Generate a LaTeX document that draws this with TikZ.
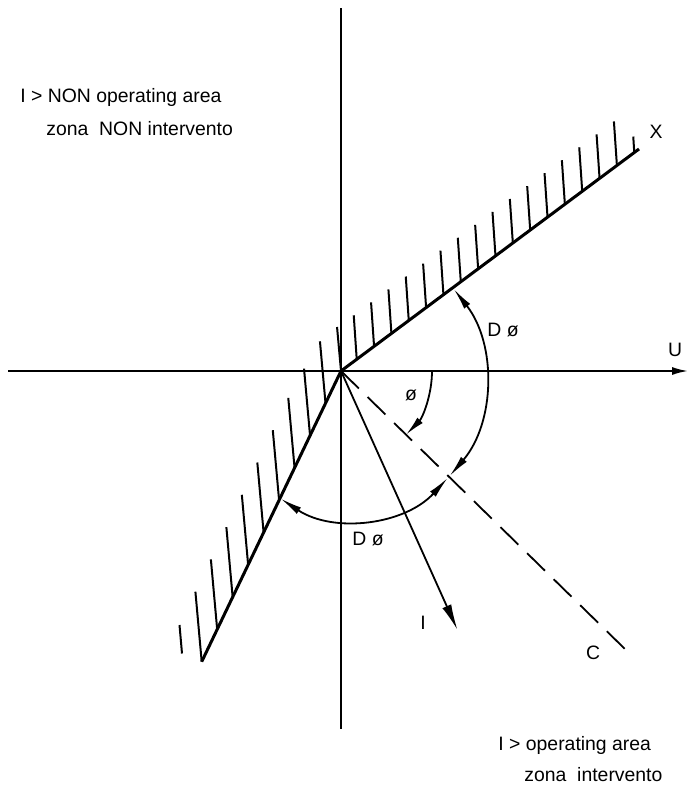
\documentclass[tikz,border=0pt]{standalone}
\usepackage{fontspec}
\setmainfont{Liberation Sans}
\usetikzlibrary{arrows.meta,calc}

\tikzset{
  axis/.style={line width=0.9pt},
  bound/.style={line width=1.5pt},
  hatch/.style={line width=1pt},
  angarc/.style={line width=0.9pt},
  lbl/.style={inner sep=0pt, font=\fontsize{9.7}{11}\selectfont},
}

\begin{document}
\begin{tikzpicture}[x=0.5pt, y=-0.5pt]
  \useasboundingbox (0,0) rectangle (688,787);

  % Axes
  \coordinate (O) at (341,371);
  \coordinate (Uw) at (8,371);
  \coordinate (Ue) at (688,371);
  \coordinate (Vn) at (341,8);
  \coordinate (Vs) at (341,729);
  \draw[axis, -{Latex[length=8pt,width=4pt]}] (Uw) -- (Ue);
  \draw[axis] (Vn) -- (Vs);

  % Boundary lines
  \coordinate (Xe) at (639,149);
  \coordinate (Le) at (201.7,661.7);
  \draw[bound] (Le) -- (O) -- (Xe);

  % Hatching, upper boundary
  \foreach \k in {0,...,15}
    \draw[hatch] ($(O)!{(19.6+21.63*\k)/371.6}!(Xe)$) -- ++(-3,-44);
  \draw[hatch] ($(O)!{(19.6+21.63*16)/371.6}!(Xe)$) -- ++(-1,-16);

  % Hatching, lower boundary
  \foreach \k/\len in {0/70,1/70,2/70,3/70,4/70,5/70,6/70,7/67,8/62,9/44}
    \draw[hatch] ($(Le)!{\k/9}!(O)$) -- ++({-0.09*\len},{-\len});
  \draw[hatch] (179.5,625) -- (182,653.5);

  % Characteristic angle C and current I
  \coordinate (Ce) at (628,652);
  \coordinate (It) at (457.5,630);
  \draw[axis, dash pattern=on 12.5pt off 6.1pt] (O) -- (Ce);
  \draw[axis, -{Latex[length=13pt,width=4.8pt]}] (O) -- (It);

  % Angles
  \coordinate (cA) at (337,380);
  \coordinate (cB) at (352,390);
  \draw[angarc, -{Latex[length=10pt,width=3.8pt]}] ($(O)+(0:91)$) arc[start angle=0, end angle=44.4, radius=91];
  \draw[angarc, {Latex[length=11pt,width=3.8pt]}-{Latex[length=11pt,width=3.8pt]}] ($(cA)+(40.5:148)$) arc[start angle=40.5, end angle=-38, radius=148];
  \draw[angarc, {Latex[length=11pt,width=3.8pt]}-{Latex[length=11pt,width=3.8pt]}] ($(cB)+(42.5:130)$) arc[start angle=42.5, end angle=123.4, radius=130];

  % Labels
  \node[lbl] (lX) at (656,132) {X};
  \node[lbl] (lU) at (675,350) {U};
  \node[lbl] (lC) at (593,653) {C};
  \node[lbl] (lI) at (423,623) {I};
  \node[lbl] (lphi) at (411,395) {ø};
  \node[lbl] (lDa) at (503,330) {D ø};
  \node[lbl] (lDb) at (368,539) {D ø};

  % Areas
  \node[lbl, anchor=base west] (tnon1) at (20,102) {I > NON operating area};
  \node[lbl, anchor=base west] (tnon2) at (46,135) {zona~~NON intervento};
  \node[lbl, anchor=base west] (top1) at (498,750) {I > operating area};
  \node[lbl, anchor=base west] (top2) at (524,781) {zona~~intervento};
\end{tikzpicture}
\end{document}
